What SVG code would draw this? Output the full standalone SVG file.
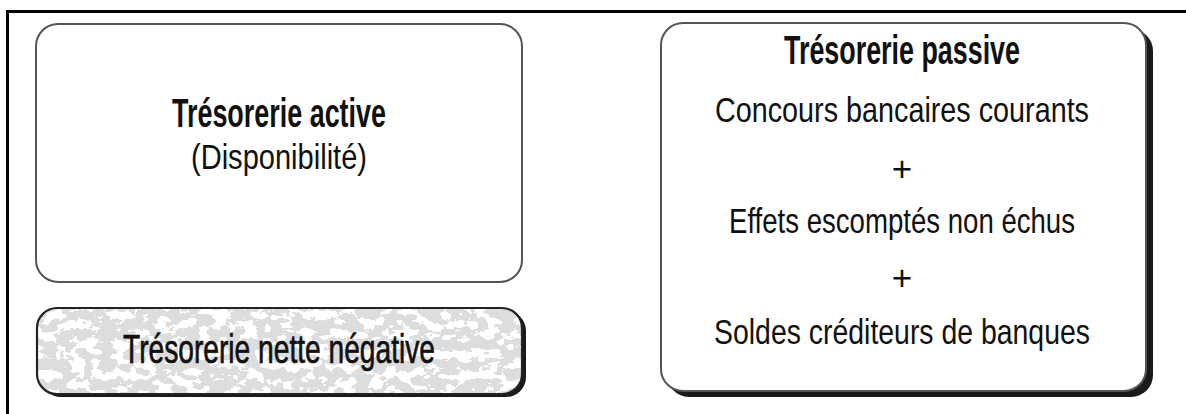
<svg xmlns="http://www.w3.org/2000/svg" width="1186" height="414" viewBox="0 0 1186 414">
  <style>
    .t { font-family: "Liberation Sans", Arial, sans-serif; fill: #111; text-anchor: middle; }
    .b { font-weight: bold; font-size: 40px; }
    .r { font-size: 35px; }
    .m { font-size: 40px; stroke: #111; stroke-width: 0.7; }
    .box { fill: #fff; stroke: #555; stroke-width: 2; }
    .dark { fill: #1a1a1a; }
  </style>
  <defs>
    <!-- speckled grey texture for the highlighted box -->
    <filter id="speckle" x="0" y="0" width="1" height="1">
      <feTurbulence type="fractalNoise" baseFrequency="0.07 0.1" numOctaves="4" seed="11" result="n"/>
      <feColorMatrix in="n" type="matrix" values="0 0 0 0 0.72  0 0 0 0 0.72  0 0 0 0 0.72  1.8 0 0 0 -0.5" result="g"/>
      <feComponentTransfer in="g">
        <feFuncA type="discrete" tableValues="0 0 1 1 1 1"/>
      </feComponentTransfer>
    </filter>
    <clipPath id="negClip">
      <rect x="37" y="308" width="485" height="86" rx="20"/>
    </clipPath>
  </defs>

  <!-- page frame -->
  <g id="frame" fill="none" stroke="#000" stroke-width="3">
    <line x1="6" y1="11.5" x2="1186" y2="11.5"/>
    <line x1="7.5" y1="10" x2="7.5" y2="414"/>
  </g>

  <g id="connectors"/>

  <g id="tresorerie-active">
    <rect class="box" x="36" y="24" width="486" height="258" rx="22"/>
    <text class="t b" x="279" y="127" textLength="214" lengthAdjust="spacingAndGlyphs">Trésorerie active</text>
    <text class="t r" x="279" y="169" textLength="176" lengthAdjust="spacingAndGlyphs">(Disponibilité)</text>
  </g>

  <g id="tresorerie-nette-negative">
    <rect class="dark" x="41" y="311" width="485" height="86" rx="20"/>
    <rect x="37" y="308" width="485" height="86" rx="20" fill="#fff"/>
    <rect x="37" y="308" width="485" height="86" clip-path="url(#negClip)" fill="#fff" filter="url(#speckle)"/>
    <rect x="37" y="308" width="485" height="86" rx="20" fill="none" stroke="#222" stroke-width="2.2"/>
    <text class="t m" x="279" y="363" textLength="312" lengthAdjust="spacingAndGlyphs">Trésorerie nette négative</text>
  </g>

  <g id="tresorerie-passive">
    <rect class="dark" x="667" y="29" width="486" height="368" rx="22"/>
    <rect class="box" x="661" y="23" width="485" height="368" rx="22" stroke="#444"/>
    <text class="t b" x="902" y="64" textLength="236" lengthAdjust="spacingAndGlyphs">Trésorerie passive</text>
    <text class="t r" x="902" y="122" textLength="374" lengthAdjust="spacingAndGlyphs">Concours bancaires courants</text>
    <text class="t r" x="902" y="181">+</text>
    <text class="t r" x="902" y="233" textLength="346" lengthAdjust="spacingAndGlyphs">Effets escomptés non échus</text>
    <text class="t r" x="902" y="290">+</text>
    <text class="t r" x="902" y="344" textLength="376" lengthAdjust="spacingAndGlyphs">Soldes créditeurs de banques</text>
  </g>
</svg>
